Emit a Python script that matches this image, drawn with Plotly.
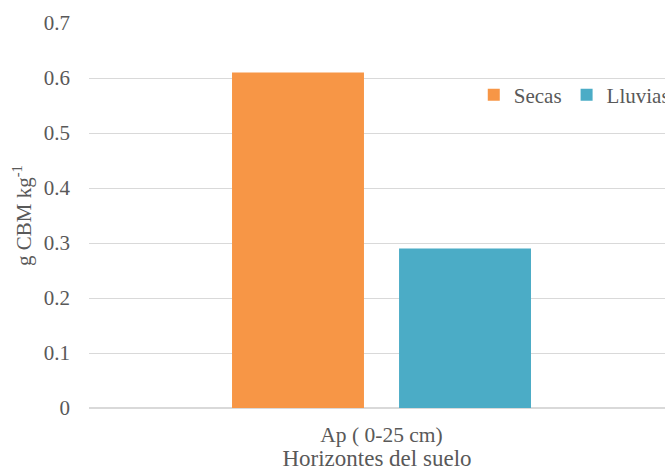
import plotly.graph_objects as go

categories = ["Ap ( 0-25 cm)"]
series_names = ["Secas", "Lluvias"]
secas = [0.61]
lluvias = [0.29]
colors = ["#F79646", "#4BACC6"]
y_ticks = [0, 0.1, 0.2, 0.3, 0.4, 0.5, 0.6, 0.7]
y_tick_text = ["0", "0.1", "0.2", "0.3", "0.4", "0.5", "0.6", "0.7"]

FONT = "Liberation Serif, Times New Roman, serif"
GRAY = "#595959"

fig = go.Figure()
for name, vals, col in zip(series_names, [secas, lluvias], colors):
    fig.add_trace(go.Bar(x=categories, y=vals, name=name, marker_color=col,
                         marker_line_width=0))

fig.update_layout(
    width=665, height=471,
    margin=dict(l=89, r=0, t=23, b=63, autoexpand=False),
    paper_bgcolor="white", plot_bgcolor="white",
    font=dict(family=FONT, size=21, color=GRAY),
    barmode="group", bargap=0.429, bargroupgap=0.21,
    showlegend=True,
    legend=dict(orientation="h", x=0.668, xanchor="left", y=0.813, yanchor="middle",
                font=dict(family=FONT, size=21, color=GRAY),
                bgcolor="rgba(0,0,0,0)", itemclick=False),
    xaxis=dict(range=[-0.5, 0.4846], showgrid=False, showline=False, zeroline=False,
               ticks="", ticklabelstandoff=11, tickfont=dict(size=21.5),
               title=dict(text="Horizontes del suelo", font=dict(size=23, color=GRAY), standoff=0)),
    yaxis=dict(range=[0, 0.7], tickvals=y_ticks, ticktext=y_tick_text,
               showgrid=True, gridcolor="#D9D9D9", gridwidth=1,
               zeroline=True, zerolinecolor="#D9D9D9", zerolinewidth=1.5,
               showline=False, ticks="", ticklabelstandoff=18,
               title=dict(text="g CBM kg<sup>-1</sup>", font=dict(size=21, color=GRAY), standoff=6)),
)

fig.write_html("out.html", config={"displayModeBar": False},
               post_script="document.body.style.margin='0';")
